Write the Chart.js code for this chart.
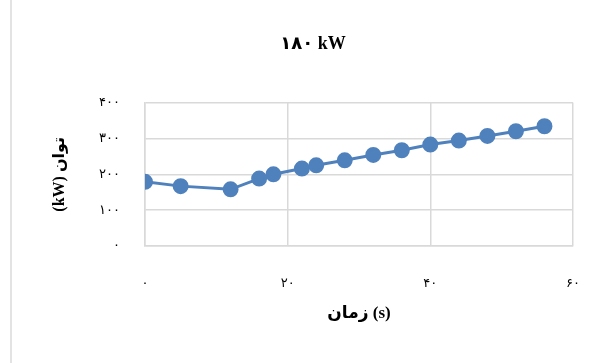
<!DOCTYPE html>
<html>
<head>
<meta charset="utf-8">
<script src="https://cdn.jsdelivr.net/npm/chart.js@4.4.1/dist/chart.umd.min.js"></script>
<style>
  body { margin: 0; background: #fff; }
  .wrap { position: relative; width: 612px; height: 363px; }
  .edge { position: absolute; left: 10px; top: 0; width: 2px; height: 363px; background: #e3e3e3; }
</style>
</head>
<body>
<div class="wrap">
  <div class="edge"></div>
  <canvas id="chartOne" width="612" height="363"></canvas>
</div>
<script>
// time (s) and power (kW)
const timeS = [0, 5, 12, 16, 18, 22, 24, 28, 32, 36, 40, 44, 48, 52, 56];
const powerKW = [179, 167, 158, 188, 200, 216, 225, 239, 254, 267, 283, 294, 307, 320, 334];
const xTicks = [0, 20, 40, 60];
const yTicks = [0, 100, 200, 300, 400];
const titleText = "۱۸۰ kW";
const xTitle = "زمان (s)";
const yTitle = "(kW) توان";

const faDigits = "۰۱۲۳۴۵۶۷۸۹";
const toFa = (n) => String(n).replace(/\d/g, (d) => faDigits[d]);

const serif = "'Liberation Serif', 'DejaVu Sans', serif";
const gridColor = "#d9d9d9";
const blue = "#4f81bd";

const chartOne = document.getElementById("chartOne");
new Chart(chartOne, {
  type: "line",
  data: {
    datasets: [
      {
        label: "power",
        data: timeS.map((t, i) => ({ x: t, y: powerKW[i] })),
        borderColor: blue,
        backgroundColor: blue,
        borderWidth: 3,
        pointRadius: 6.5,
        pointHoverRadius: 6.5,
        tension: 0,
      },
    ],
  },
  options: {
    responsive: false,
    animation: false,
    layout: { padding: { left: 14, right: 0, top: 0, bottom: 0 } },
    plugins: {
      legend: { display: false },
      tooltip: { enabled: false },
      title: {
        display: true,
        text: titleText,
        color: "#000",
        font: { family: serif, size: 18, weight: "bold" },
        padding: { top: 34, bottom: 47 },
      },
    },
    scales: {
      x: {
        type: "linear",
        min: 0,
        max: 60,
        afterBuildTicks: (s) => { s.ticks = xTicks.map((v) => ({ value: v })); },
        afterFit: (s) => { s.height = 117; },
        ticks: {
          padding: 30,
          color: "#000",
          font: { family: serif, size: 13 },
          callback: (v) => toFa(v),
        },
        grid: { color: gridColor, lineWidth: 1.5, drawTicks: false },
        border: { color: gridColor, width: 1.5 },
        title: {
          display: true,
          text: xTitle,
          color: "#000",
          font: { family: serif, size: 17, weight: "bold" },
          padding: { top: 0, bottom: 39 },
        },
      },
      y: {
        min: 0,
        max: 400,
        afterBuildTicks: (s) => { s.ticks = yTicks.map((v) => ({ value: v })); },
        afterFit: (s) => { s.width = 131; },
        ticks: {
          padding: 25,
          color: "#000",
          font: { family: serif, size: 13 },
          callback: (v) => toFa(v),
        },
        grid: { color: gridColor, lineWidth: 1.5, drawTicks: false },
        border: { color: gridColor, width: 1.5 },
        title: {
          display: true,
          text: yTitle,
          color: "#000",
          font: { family: serif, size: 16, weight: "bold" },
          padding: { top: 36, bottom: 0 },
        },
      },
      // empty right-hand axis, only keeps the plot's right margin
      yRight: {
        axis: "y",
        position: "right",
        min: 0,
        max: 400,
        afterFit: (s) => { s.width = 39; },
        ticks: { display: false },
        grid: { display: false },
        border: { display: false },
      },
    },
  },
});
</script>
</body>
</html>
